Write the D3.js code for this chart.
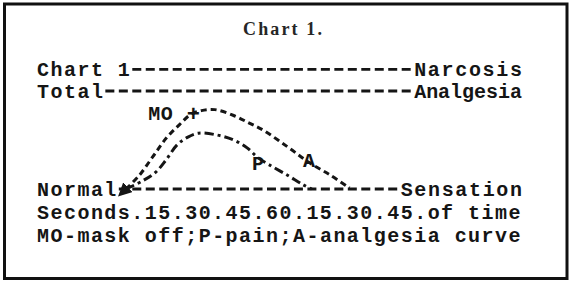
<!DOCTYPE html>
<html>
<head>
<meta charset="utf-8">
<script src="https://cdn.jsdelivr.net/npm/d3@7"></script>
<style>
  body { margin: 0; background: #fff; }
  .type { font-family: "Liberation Mono", "DejaVu Sans Mono", monospace; font-size: 20px; font-weight: bold; fill: #151515; }
</style>
</head>
<body>
<div id="chart"></div>
<script>
// level rows (typed reference lines)
const levelLeft = ["Chart 1", "Total", "Normal"];
const levelRight = ["Narcosis", "Analgesia", "Sensation"];
const levelValue = [122, 100, 0];

// time axis
const tickSeconds = [15, 30, 45, 60, 75, 90, 105];
const tickLabels = ["15", "30", "45", "60", "15", "30", "45"];

// analgesia curve (A) : seconds, level
const aTime = [3, 8, 13, 18, 23, 27, 31, 36, 43, 49, 54, 63, 71, 79, 86];
const aLevel = [0, 14, 33, 52, 66, 76, 80, 81, 75, 67, 60, 43, 27, 14, 1];
// pain curve (P)
const pTime = [3, 9, 14, 18, 22, 26, 30, 37, 43, 48, 52, 56, 63, 69, 72];
const pLevel = [0, 8, 17, 30, 45, 53, 57, 55, 50, 42, 32, 25, 14, 4, 0];

const marks = ["MO", "P", "A"];
const markTime = [28, 52, 71];

const legendText = "MO-mask off;P-pain;A-analgesia curve";

const W = 572, H = 283;
const x0 = 37, pitch = 13.47, fs = 20;
const ls = pitch - 0.6 * fs;
const rightEnd = 522;
const rightCol = [28, 28, 27];

const svg = d3.select("#chart").append("svg")
    .attr("width", W).attr("height", H);

svg.append("rect")
    .attr("x", 4.5).attr("y", 4)
    .attr("width", 562.5).attr("height", 274.5)
    .attr("fill", "#fff").attr("stroke", "#111").attr("stroke-width", 3);

svg.append("text")
    .attr("x", 243).attr("y", 35)
    .attr("textLength", 79).attr("lengthAdjust", "spacing")
    .style("font-family", "'Liberation Serif', 'DejaVu Serif', serif")
    .style("font-size", "18px").style("font-weight", "bold").attr("fill", "#262626")
    .text("Chart 1.");

let x = d3.scaleLinear().domain([0, 105]).range([x0 + 6 * pitch, x0 + 27 * pitch]);
let y = d3.scaleLinear().domain([0, 100]).range([189, 91]);

// level rows
levelLeft.forEach((lab, i) => {
    let ly = y(levelValue[i]);
    let rx = x0 + rightCol[i] * pitch;
    svg.append("text").attr("class", "type")
        .attr("x", x0).attr("y", ly + 6.5)
        .style("letter-spacing", ls + "px")
        .text(lab);
    svg.append("line")
        .attr("x1", x0 + lab.length * pitch + 1).attr("x2", rx - 1)
        .attr("y1", ly).attr("y2", ly)
        .attr("stroke", "#151515").attr("stroke-width", 2.8)
        .attr("stroke-dasharray", "9," + (pitch - 9));
    svg.append("text").attr("class", "type")
        .attr("x", rx).attr("y", ly + 6.5)
        .attr("textLength", rightEnd - rx).attr("lengthAdjust", "spacing")
        .text(levelRight[i]);
});

// time row
let rowY = 218.5;
svg.append("text").attr("class", "type")
    .attr("x", x0).attr("y", rowY)
    .style("letter-spacing", ls + "px")
    .text("Seconds");
tickSeconds.forEach((t, i) => {
    svg.append("text").attr("class", "type")
        .attr("x", x(t) - pitch).attr("y", rowY)
        .style("letter-spacing", ls + "px")
        .text(tickLabels[i]);
    svg.append("text").attr("class", "type")
        .attr("x", x(t) - 2 * pitch).attr("y", rowY)
        .text(".");
});
svg.append("text").attr("class", "type")
    .attr("x", x(105) + pitch).attr("y", rowY)
    .text(".");
svg.append("text").attr("class", "type")
    .attr("x", x(105) + 2 * pitch).attr("y", rowY)
    .style("letter-spacing", ls + "px")
    .text("of time");

svg.append("text").attr("class", "type")
    .attr("x", x0).attr("y", 241.5)
    .style("letter-spacing", ls + "px")
    .text(legendText);

// curves
svg.append("defs").append("marker")
    .attr("id", "arr").attr("viewBox", "0 0 10 10")
    .attr("refX", 2).attr("refY", 5)
    .attr("markerWidth", 4.5).attr("markerHeight", 4.5)
    .attr("orient", "auto-start-reverse")
    .append("path").attr("d", "M0,0L10,5L0,10z").attr("fill", "#151515");

let line = d3.line()
    .x(d => x(d[0])).y(d => y(d[1]))
    .curve(d3.curveCatmullRom);

let aData = aTime.map((t, i) => [t, aLevel[i]]);
let pData = pTime.map((t, i) => [t, pLevel[i]]);

svg.append("path").datum(aData)
    .attr("d", line).attr("fill", "none")
    .attr("stroke", "#151515").attr("stroke-width", 3)
    .attr("stroke-dasharray", "6,4")
    .attr("marker-start", "url(#arr)");

svg.append("path").datum(pData)
    .attr("d", line).attr("fill", "none")
    .attr("stroke", "#151515").attr("stroke-width", 3)
    .attr("stroke-dasharray", "9,4,3,4");

// curve marks
let levelAt = (ts, lv, t) => d3.scaleLinear().domain(ts).range(lv)(t);
let moX = x(markTime[0]), moY = y(levelAt(aTime, aLevel, markTime[0]));
svg.append("text").attr("class", "type")
    .attr("x", moX).attr("y", moY + 7).attr("text-anchor", "middle")
    .style("font-size", "22px")
    .text("+");
svg.append("text").attr("class", "type")
    .attr("x", moX - 20).attr("y", moY + 6).attr("text-anchor", "end")
    .style("letter-spacing", "0.5px")
    .text(marks[0]);
svg.append("text").attr("class", "type")
    .attr("x", x(markTime[1])).attr("y", y(levelAt(pTime, pLevel, markTime[1])) + 12)
    .attr("text-anchor", "middle")
    .text(marks[1]);
svg.append("text").attr("class", "type")
    .attr("x", x(markTime[2])).attr("y", y(levelAt(aTime, aLevel, markTime[2])) + 4)
    .attr("text-anchor", "middle")
    .text(marks[2]);
</script>
</body>
</html>
